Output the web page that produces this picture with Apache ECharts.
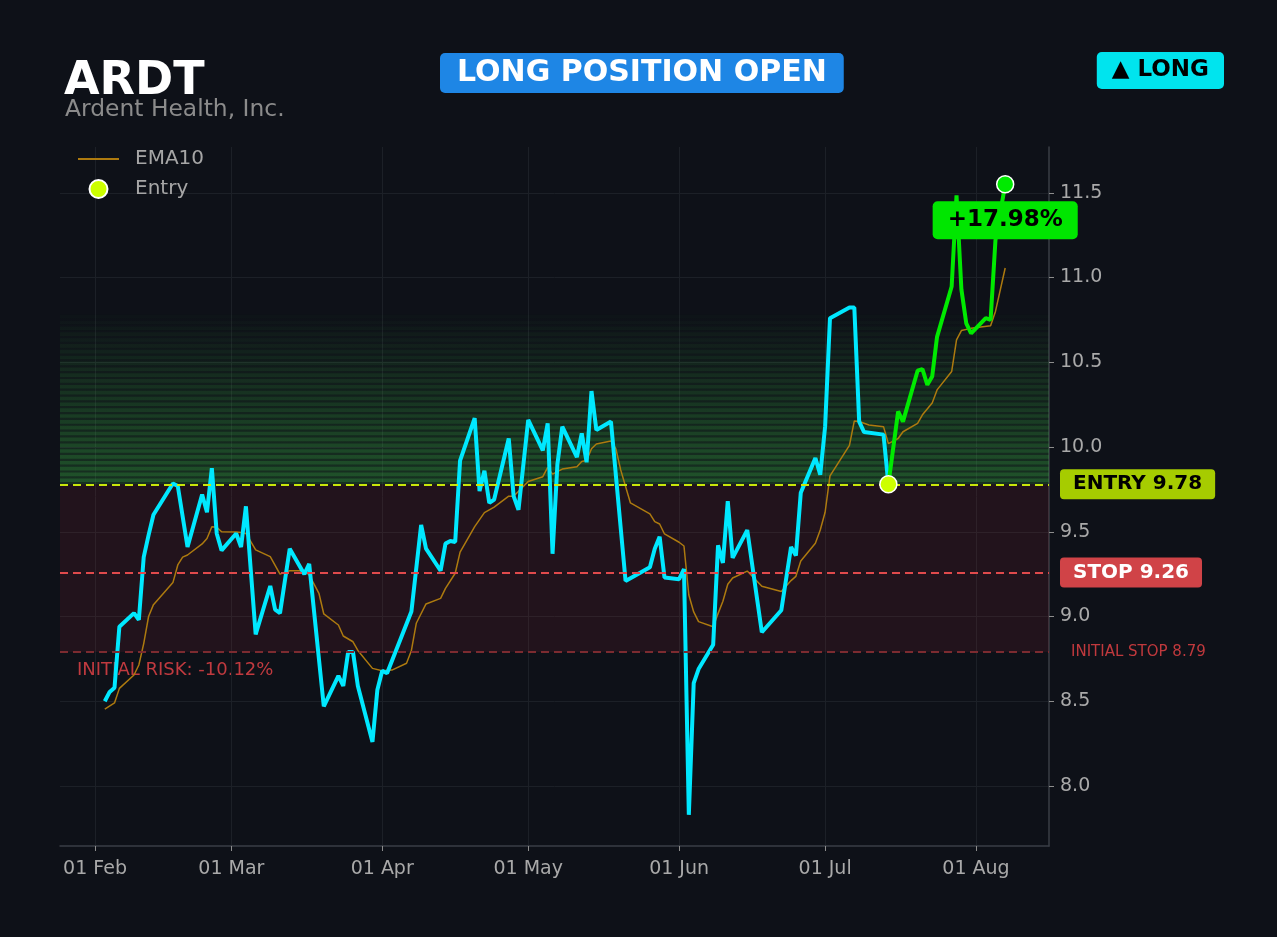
<!DOCTYPE html>
<html>
<head>
<meta charset="utf-8">
<title>ARDT</title>
<script src="https://cdn.jsdelivr.net/npm/echarts@6/dist/echarts.min.js"></script>
<style>
  html, body { margin: 0; padding: 0; background: #0e1118; }
  #chart { width: 1277px; height: 937px; }
</style>
</head>
<body>
<div id="chart"></div>
<script>
// price path before the entry (cyan) -- last point is the entry day
const preDates = ['2025-02-03','2025-02-04','2025-02-05','2025-02-06','2025-02-09','2025-02-10','2025-02-11','2025-02-12','2025-02-13','2025-02-17','2025-02-18','2025-02-20','2025-02-23','2025-02-24','2025-02-25','2025-02-26','2025-02-27','2025-03-02','2025-03-03','2025-03-04','2025-03-06','2025-03-09','2025-03-10','2025-03-11','2025-03-13','2025-03-16','2025-03-17','2025-03-20','2025-03-23','2025-03-24','2025-03-25','2025-03-26','2025-03-27','2025-03-30','2025-03-31','2025-04-01','2025-04-02','2025-04-07','2025-04-09','2025-04-10','2025-04-13','2025-04-14','2025-04-15','2025-04-16','2025-04-17','2025-04-20','2025-04-21','2025-04-22','2025-04-23','2025-04-24','2025-04-27','2025-04-28','2025-04-29','2025-05-01','2025-05-04','2025-05-05','2025-05-06','2025-05-07','2025-05-08','2025-05-11','2025-05-12','2025-05-13','2025-05-14','2025-05-15','2025-05-18','2025-05-21','2025-05-26','2025-05-27','2025-05-28','2025-05-29','2025-06-01','2025-06-02','2025-06-03','2025-06-04','2025-06-05','2025-06-08','2025-06-09','2025-06-10','2025-06-11','2025-06-12','2025-06-15','2025-06-18','2025-06-22','2025-06-24','2025-06-25','2025-06-26','2025-06-29','2025-06-30','2025-07-01','2025-07-02','2025-07-06','2025-07-07','2025-07-08','2025-07-09','2025-07-13','2025-07-14'];
const prePrice = [8.50,8.555,8.58,8.94,9.02,8.98,9.35,9.48,9.60,9.785,9.77,9.41,9.72,9.615,9.875,9.49,9.39,9.49,9.41,9.65,8.895,9.18,9.04,9.02,9.40,9.25,9.31,8.47,8.65,8.59,8.79,8.79,8.59,8.26,8.566,8.68,8.665,9.03,9.54,9.40,9.27,9.43,9.445,9.44,9.92,10.17,9.74,9.86,9.67,9.69,10.05,9.71,9.63,10.16,9.98,10.14,9.37,9.90,10.12,9.94,10.08,9.91,10.33,10.10,10.15,9.21,9.29,9.40,9.47,9.23,9.22,9.28,7.83,8.607,8.69,8.833,9.42,9.316,9.68,9.346,9.51,8.907,9.037,9.41,9.36,9.73,9.935,9.836,10.12,10.76,10.823,10.823,10.15,10.088,10.073,9.78];

// price path after the entry (green)
const postDates = ['2025-07-14','2025-07-16','2025-07-17','2025-07-20','2025-07-21','2025-07-22','2025-07-23','2025-07-24','2025-07-27','2025-07-28','2025-07-29','2025-07-30','2025-07-31','2025-08-03','2025-08-04','2025-08-05','2025-08-07'];
const postPrice = [9.78,10.21,10.15,10.45,10.46,10.367,10.416,10.65,10.947,11.484,10.93,10.73,10.67,10.76,10.75,11.22,11.55];

// EMA10
const emaDates = ['2025-02-03','2025-02-05','2025-02-06','2025-02-09','2025-02-10','2025-02-11','2025-02-12','2025-02-13','2025-02-17','2025-02-18','2025-02-19','2025-02-20','2025-02-23','2025-02-24','2025-02-25','2025-02-26','2025-02-27','2025-03-02','2025-03-03','2025-03-04','2025-03-06','2025-03-09','2025-03-11','2025-03-13','2025-03-16','2025-03-17','2025-03-19','2025-03-20','2025-03-23','2025-03-24','2025-03-26','2025-03-27','2025-03-30','2025-04-01','2025-04-03','2025-04-06','2025-04-07','2025-04-08','2025-04-10','2025-04-13','2025-04-14','2025-04-16','2025-04-17','2025-04-20','2025-04-22','2025-04-24','2025-04-27','2025-04-28','2025-05-01','2025-05-04','2025-05-05','2025-05-06','2025-05-08','2025-05-11','2025-05-12','2025-05-13','2025-05-14','2025-05-15','2025-05-18','2025-05-19','2025-05-20','2025-05-22','2025-05-26','2025-05-27','2025-05-28','2025-05-29','2025-06-01','2025-06-02','2025-06-03','2025-06-04','2025-06-05','2025-06-08','2025-06-09','2025-06-10','2025-06-11','2025-06-12','2025-06-15','2025-06-18','2025-06-22','2025-06-24','2025-06-25','2025-06-26','2025-06-29','2025-06-30','2025-07-01','2025-07-02','2025-07-06','2025-07-07','2025-07-08','2025-07-10','2025-07-13','2025-07-14','2025-07-16','2025-07-17','2025-07-20','2025-07-21','2025-07-23','2025-07-24','2025-07-27','2025-07-28','2025-07-29','2025-07-31','2025-08-04','2025-08-05','2025-08-07'];
const emaValues = [8.454,8.49,8.576,8.655,8.714,8.84,9.00,9.07,9.20,9.304,9.35,9.363,9.428,9.46,9.53,9.527,9.50,9.499,9.495,9.49,9.393,9.353,9.25,9.27,9.27,9.245,9.137,9.015,8.95,8.885,8.851,8.80,8.694,8.68,8.684,8.724,8.80,8.96,9.074,9.107,9.166,9.255,9.38,9.53,9.613,9.645,9.71,9.71,9.796,9.825,9.88,9.84,9.87,9.884,9.914,9.92,9.99,10.018,10.036,9.99,9.865,9.67,9.605,9.56,9.546,9.487,9.438,9.416,9.127,9.027,8.97,8.94,9.017,9.09,9.19,9.227,9.268,9.178,9.148,9.212,9.237,9.327,9.432,9.51,9.615,9.83,10.01,10.154,10.15,10.13,10.12,10.02,10.05,10.09,10.14,10.19,10.26,10.337,10.445,10.632,10.687,10.70,10.715,10.80,11.056];

// levels
const entryPrice = 9.78;
const stopPrice = 9.26;
const initialStop = 8.79;
const targetZoneTop = 10.78;
const entryDate = '2025-07-14';
const gainText = '+17.98%';
const riskText = 'INITIAL RISK: -10.12%';

// axis ticks
const monthTicks = ['2025-02-01','2025-03-01','2025-04-01','2025-05-01','2025-06-01','2025-07-01','2025-08-01'];
const monthNames = ['Jan','Feb','Mar','Apr','May','Jun','Jul','Aug','Sep','Oct','Nov','Dec'];
const yTicks = [8.0,8.5,9.0,9.5,10.0,10.5,11.0,11.5];

const DAY = 86400000;
const toMs = s => { const p = s.split('-').map(Number); return Date.UTC(p[0], p[1] - 1, p[2]); };
const pair = (ds, vs) => ds.map((d, i) => [toMs(d), vs[i]]);

const xMin = toMs('2025-02-01') - 7.2 * DAY;
const xMax = toMs('2025-02-01') + 196 * DAY;
const yMin = 7.646, yMax = 11.77;

const FONT = 'DejaVu Sans';
const BG = '#0e1118';
const GREEN_RGB = '60,185,70';

// green striped target zone above the entry: soft base gradient + bands
const zoneBase = [
  { xAxis: xMin, yAxis: entryPrice, itemStyle: { color: {
      type: 'linear', x: 0, y: 0, x2: 0, y2: 1,
      colorStops: [
        { offset: 0, color: 'rgba(' + GREEN_RGB + ',0)' },
        { offset: 1, color: 'rgba(' + GREEN_RGB + ',0.19)' }
      ] } } },
  { xAxis: xMax, yAxis: targetZoneTop }
];
let stripes = [];
const nBands = 29;
const bandH = (targetZoneTop - entryPrice) / nBands;
const gap = 2.2 * (yMax - yMin) / 699;
for (let i = 0; i < nBands; i++) {
  let lo = entryPrice + bandH * i;
  let a = 0.24 * (1 - i / nBands) + 0.01;
  stripes.push([
    { xAxis: xMin, yAxis: lo + gap, itemStyle: { color: 'rgba(' + GREEN_RGB + ',' + a.toFixed(3) + ')' } },
    { xAxis: xMax, yAxis: lo + bandH }
  ]);
}

let chart = echarts.init(document.getElementById('chart'));

let option = {
  backgroundColor: BG,
  animation: false,
  textStyle: { fontFamily: FONT },
  grid: { left: 60, right: 228, top: 147, bottom: 91 },
  legend: {
    orient: 'vertical',
    left: 72,
    top: 144,
    itemWidth: 41,
    itemHeight: 18,
    itemGap: 10,
    data: [
      { name: 'EMA10', itemStyle: { color: 'rgba(0,0,0,0)', borderWidth: 0 } },
      { name: 'Entry' }
    ],
    textStyle: { color: '#a6a6a6', fontSize: 20, fontFamily: FONT, padding: [0, 0, 0, 11] }
  },
  xAxis: {
    type: 'value',
    min: xMin,
    max: xMax,
    axisLine: { show: true, lineStyle: { color: '#3a3e45', width: 1.5 } },
    axisTick: { show: true, length: 5, customValues: monthTicks.map(toMs), lineStyle: { color: '#8d8d8d' } },
    axisLabel: {
      customValues: monthTicks.map(toMs),
      color: '#a9a9a9', fontSize: 19, fontFamily: FONT, margin: 14,
      formatter: v => { let d = new Date(v); return String(d.getUTCDate()).padStart(2, '0') + ' ' + monthNames[d.getUTCMonth()]; }
    },
    splitLine: { show: true, lineStyle: { color: '#1c2027', width: 1 } }
  },
  yAxis: {
    type: 'value',
    position: 'right',
    min: yMin,
    max: yMax,
    axisLine: { show: true, lineStyle: { color: '#3a3e45', width: 1.5 } },
    axisTick: { show: true, length: 5, customValues: yTicks, lineStyle: { color: '#8d8d8d' } },
    axisLabel: {
      customValues: yTicks,
      color: '#a9a9a9', fontSize: 19, fontFamily: FONT, margin: 11,
      padding: [4, 0, 0, 0],
      formatter: v => v.toFixed(1)
    },
    splitLine: { show: true, lineStyle: { color: '#1c2027', width: 1 } }
  },
  series: [
    {
      // zones and level lines
      name: 'levels',
      type: 'line',
      data: [[xMin, entryPrice]],
      symbol: 'none',
      lineStyle: { opacity: 0 },
      silent: true,
      z: 1,
      markArea: {
        silent: true,
        data: [[
          { xAxis: xMin, yAxis: initialStop, itemStyle: { color: 'rgba(185,40,60,0.12)' } },
          { xAxis: xMax, yAxis: entryPrice }
        ], zoneBase].concat(stripes)
      },
      markLine: {
        silent: true,
        symbol: 'none',
        data: [
          {
            yAxis: entryPrice,
            lineStyle: { color: '#c8e60a', type: [8, 5], width: 2 },
            label: {
              show: true, position: 'end', distance: 11, formatter: 'ENTRY ' + entryPrice.toFixed(2),
              color: '#000', fontWeight: 'bold', fontSize: 20, fontFamily: FONT,
              backgroundColor: '#a6cc00', padding: [5, 13, 5, 13], borderRadius: 4
            }
          },
          {
            yAxis: stopPrice,
            lineStyle: { color: '#e04a4c', type: [8, 5], width: 2 },
            label: {
              show: true, position: 'end', distance: 11, formatter: 'STOP ' + stopPrice.toFixed(2),
              color: '#fff', fontWeight: 'bold', fontSize: 20, fontFamily: FONT,
              backgroundColor: '#d04347', padding: [5, 13, 5, 13], borderRadius: 4
            }
          },
          {
            yAxis: initialStop,
            lineStyle: { color: '#7c2b30', type: [8, 5], width: 2 },
            label: {
              show: true, position: 'end', distance: 22, formatter: 'INITIAL STOP ' + initialStop.toFixed(2),
              color: '#c0393d', fontSize: 15, fontFamily: FONT
            }
          }
        ]
      }
    },
    {
      name: 'EMA10',
      type: 'line',
      data: pair(emaDates, emaValues),
      symbol: 'none',
      showSymbol: false,
      lineStyle: { color: '#ad7a0f', width: 1.5 },
      itemStyle: { color: '#ad7a0f' },
      z: 3
    },
    {
      name: 'Price',
      type: 'line',
      data: pair(preDates, prePrice),
      symbol: 'none',
      lineStyle: { color: '#00e8ff', width: 4 },
      z: 4
    },
    {
      name: 'Position',
      type: 'line',
      data: pair(postDates, postPrice),
      symbol: 'none',
      lineStyle: { color: '#00ea00', width: 4 },
      z: 5
    },
    {
      name: 'Entry',
      type: 'scatter',
      data: [[toMs(entryDate), entryPrice]],
      symbolSize: 17,
      itemStyle: { color: '#ccff00', borderColor: '#ffffff', borderWidth: 1.5, opacity: 1 },
      z: 6
    },
    {
      name: 'Last',
      type: 'scatter',
      data: [[toMs(postDates[postDates.length - 1]), postPrice[postPrice.length - 1]]],
      symbolSize: 17,
      itemStyle: { color: '#00ea00', borderColor: '#ffffff', borderWidth: 1.5, opacity: 1 },
      label: {
        show: true, position: 'inside', offset: [0, 36], formatter: gainText,
        color: '#000', fontWeight: 'bold', fontSize: 23, fontFamily: FONT,
        backgroundColor: '#00e600', padding: [8, 15, 7, 15], borderRadius: 5
      },
      z: 6
    }
  ],
  graphic: [
    { type: 'text', x: 64, y: 82, style: { text: 'ARDT', fill: '#ffffff', fontSize: 46, fontWeight: 'bold', fontFamily: FONT, verticalAlign: 'middle' } },
    { type: 'text', x: 65, y: 110, style: { text: 'Ardent Health, Inc.', fill: '#8b8b8b', fontSize: 23.4, fontFamily: FONT, verticalAlign: 'middle' } },
    { type: 'text', x: 440, y: 53, style: { text: 'LONG POSITION OPEN', fill: '#ffffff', fontSize: 30, fontWeight: 'bold', fontFamily: FONT, backgroundColor: '#1e86e5', padding: [5, 17, 5, 17], borderRadius: 5, lineHeight: 30, verticalAlign: 'top' } },
    { type: 'text', x: 1224, y: 52, style: { text: '▲ LONG', fill: '#000000', fontSize: 23, fontWeight: 'bold', fontFamily: FONT, backgroundColor: '#00e4ee', padding: [5, 15, 5, 15], borderRadius: 5, lineHeight: 27, align: 'right', verticalAlign: 'top' } },
    { type: 'text', x: 77, y: 670, style: { text: riskText, fill: '#c03a3f', fontSize: 18, fontFamily: FONT, verticalAlign: 'middle' } }
  ]
};

chart.setOption(option);
</script>
</body>
</html>
